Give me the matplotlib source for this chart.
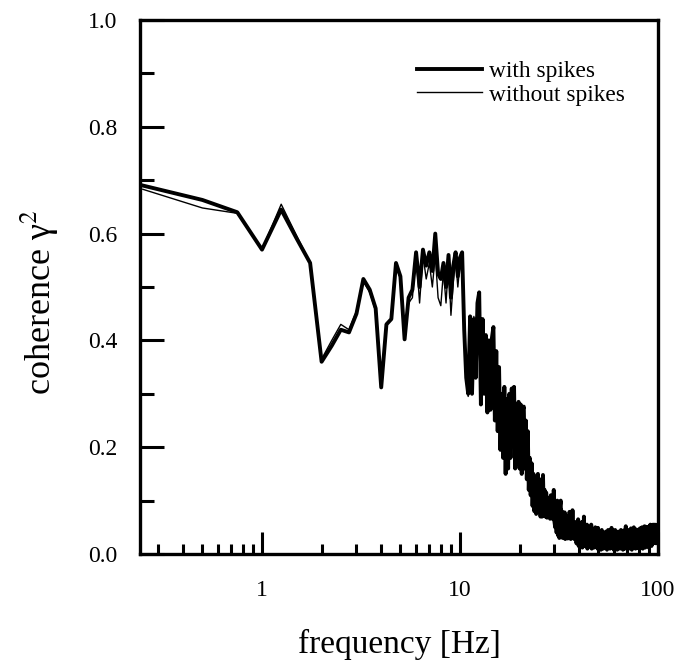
import numpy as np
import matplotlib
matplotlib.use("Agg")
import matplotlib.pyplot as plt
from matplotlib.ticker import FixedLocator, NullFormatter

plt.rcParams['font.family'] = ['Liberation Serif', 'DejaVu Serif']
plt.rcParams['mathtext.fontset'] = 'stix'

# frequency grid: 0.25 Hz resolution, 0.25 .. 100 Hz
df = 0.25
n_points = 400
freq = np.arange(1, n_points + 1) * df

with_spikes = [
    0.690, 0.663, 0.640, 0.570, 0.645, 0.590, 0.545, 0.360,
    0.390, 0.420, 0.415, 0.450, 0.515, 0.495, 0.460, 0.312,
    0.430, 0.440, 0.545, 0.520, 0.402, 0.480, 0.495, 0.565,
    0.500, 0.570, 0.540, 0.565, 0.530, 0.600, 0.525, 0.515,
    0.545, 0.500, 0.560, 0.480, 0.540, 0.565, 0.520, 0.555,
    0.565, 0.420, 0.330, 0.300, 0.445, 0.300, 0.440, 0.330,
    0.470, 0.490, 0.280, 0.440, 0.300, 0.410, 0.265, 0.400,
    0.270, 0.405, 0.425, 0.250, 0.380, 0.230, 0.350, 0.195,
    0.300, 0.180, 0.313, 0.150, 0.290, 0.160, 0.300, 0.180,
    0.310, 0.230, 0.313, 0.160, 0.280, 0.170, 0.285, 0.160,
    0.280, 0.150, 0.270, 0.276, 0.160, 0.250, 0.140, 0.230,
    0.120, 0.180, 0.110, 0.170, 0.090, 0.150, 0.080, 0.140,
    0.075, 0.130, 0.150, 0.080, 0.140, 0.070, 0.130, 0.070,
    0.148, 0.075, 0.120, 0.070, 0.115, 0.068, 0.105, 0.070,
    0.095, 0.066, 0.110, 0.068, 0.100, 0.065, 0.120, 0.060,
    0.050, 0.095, 0.040, 0.100, 0.035, 0.085, 0.030, 0.090,
    0.100, 0.035, 0.080, 0.030, 0.075, 0.032, 0.078, 0.028,
    0.065, 0.030, 0.070, 0.029, 0.060, 0.030, 0.079, 0.030,
    0.028, 0.060, 0.030, 0.082, 0.030, 0.055, 0.028, 0.050,
    0.030, 0.060, 0.020, 0.050, 0.035, 0.065, 0.015, 0.040,
    0.055, 0.020, 0.045, 0.030, 0.060, 0.012, 0.040, 0.025,
    0.070, 0.030, 0.050, 0.015, 0.045, 0.025, 0.055, 0.010,
    0.040, 0.020, 0.050, 0.030, 0.015, 0.045, 0.025, 0.055,
    0.010, 0.035, 0.020, 0.045, 0.030, 0.012, 0.040, 0.025,
    0.050, 0.015, 0.035, 0.020, 0.045, 0.010, 0.049, 0.025,
    0.030, 0.012, 0.040, 0.020, 0.035, 0.008, 0.030, 0.045,
    0.015, 0.025, 0.040, 0.010, 0.030, 0.020, 0.038, 0.012,
    0.028, 0.042, 0.015, 0.030, 0.008, 0.035, 0.020, 0.045,
    0.012, 0.030, 0.020, 0.040, 0.010, 0.025, 0.035, 0.015,
    0.049, 0.020, 0.030, 0.012, 0.040, 0.022, 0.008, 0.035,
    0.018, 0.030, 0.045, 0.010, 0.025, 0.035, 0.015, 0.040,
    0.008, 0.028, 0.020, 0.042, 0.012, 0.030, 0.022, 0.038,
    0.010, 0.035, 0.018, 0.045, 0.025, 0.012, 0.040, 0.020,
    0.030, 0.008, 0.036, 0.022, 0.044, 0.015, 0.030, 0.010,
    0.040, 0.025, 0.052, 0.018, 0.035, 0.012, 0.042, 0.028,
    0.015, 0.038, 0.022, 0.045, 0.010, 0.030, 0.020, 0.040,
    0.012, 0.034, 0.025, 0.048, 0.018, 0.030, 0.008, 0.038,
    0.022, 0.044, 0.015, 0.032, 0.025, 0.050, 0.012, 0.036,
    0.028, 0.018, 0.042, 0.010, 0.035, 0.024, 0.046, 0.015,
    0.032, 0.020, 0.040, 0.012, 0.030, 0.045, 0.018, 0.035,
    0.010, 0.038, 0.025, 0.048, 0.015, 0.030, 0.022, 0.042,
    0.012, 0.035, 0.028, 0.050, 0.018, 0.032, 0.010, 0.040,
    0.025, 0.045, 0.015, 0.036, 0.028, 0.052, 0.020, 0.038,
    0.012, 0.042, 0.030, 0.051, 0.018, 0.035, 0.025, 0.046,
    0.015, 0.040, 0.030, 0.050, 0.022, 0.038, 0.012, 0.044,
    0.028, 0.052, 0.020, 0.040, 0.032, 0.055, 0.018, 0.042,
    0.030, 0.048, 0.015, 0.038, 0.025, 0.050, 0.022, 0.045,
    0.035, 0.055, 0.020, 0.042, 0.030, 0.052, 0.025, 0.048,
    0.038, 0.055, 0.028, 0.046, 0.032, 0.050, 0.020, 0.045,
    0.035, 0.052, 0.030, 0.048, 0.040, 0.055, 0.028, 0.045,
]

without_spikes = [
    0.683, 0.648, 0.638, 0.570, 0.655, 0.595, 0.545, 0.365,
    0.400, 0.430, 0.420, 0.455, 0.510, 0.490, 0.455, 0.318,
    0.428, 0.440, 0.540, 0.515, 0.405, 0.470, 0.480, 0.560,
    0.470, 0.560, 0.515, 0.545, 0.500, 0.560, 0.480, 0.465,
    0.530, 0.470, 0.545, 0.447, 0.510, 0.550, 0.500, 0.545,
    0.560, 0.410, 0.325, 0.295, 0.440, 0.310, 0.445, 0.335,
    0.460, 0.485, 0.290, 0.430, 0.310, 0.405, 0.270, 0.395,
    0.280, 0.400, 0.420, 0.260, 0.370, 0.240, 0.345, 0.200,
    0.290, 0.190, 0.305, 0.160, 0.285, 0.170, 0.290, 0.185,
    0.300, 0.235, 0.305, 0.170, 0.270, 0.175, 0.275, 0.165,
    0.270, 0.160, 0.265, 0.265, 0.165, 0.245, 0.145, 0.225,
    0.125, 0.175, 0.115, 0.165, 0.095, 0.145, 0.085, 0.135,
    0.080, 0.125, 0.145, 0.085, 0.135, 0.075, 0.125, 0.075,
    0.140, 0.080, 0.115, 0.075, 0.110, 0.070, 0.100, 0.072,
    0.090, 0.068, 0.105, 0.070, 0.095, 0.066, 0.115, 0.062,
    0.055, 0.090, 0.045, 0.095, 0.038, 0.080, 0.033, 0.085,
    0.095, 0.038, 0.085, 0.032, 0.070, 0.035, 0.072, 0.030,
    0.060, 0.032, 0.065, 0.031, 0.058, 0.032, 0.075, 0.032,
    0.030, 0.055, 0.033, 0.078, 0.030, 0.052, 0.030, 0.046,
    0.035, 0.055, 0.025, 0.045, 0.040, 0.060, 0.020, 0.035,
    0.050, 0.025, 0.040, 0.035, 0.055, 0.015, 0.045, 0.020,
    0.065, 0.035, 0.045, 0.020, 0.040, 0.030, 0.050, 0.015,
    0.035, 0.025, 0.045, 0.035, 0.020, 0.040, 0.030, 0.050,
    0.015, 0.030, 0.025, 0.040, 0.035, 0.015, 0.035, 0.030,
    0.045, 0.020, 0.030, 0.025, 0.040, 0.015, 0.045, 0.020,
    0.035, 0.015, 0.035, 0.025, 0.030, 0.012, 0.035, 0.040,
    0.020, 0.030, 0.035, 0.015, 0.025, 0.025, 0.032, 0.018,
    0.032, 0.038, 0.020, 0.025, 0.012, 0.030, 0.025, 0.040,
    0.018, 0.025, 0.025, 0.035, 0.015, 0.030, 0.030, 0.020,
    0.044, 0.025, 0.025, 0.018, 0.035, 0.028, 0.012, 0.030,
    0.022, 0.025, 0.040, 0.015, 0.030, 0.030, 0.020, 0.035,
    0.012, 0.032, 0.018, 0.038, 0.016, 0.026, 0.026, 0.034,
    0.014, 0.030, 0.022, 0.040, 0.020, 0.016, 0.036, 0.024,
    0.026, 0.012, 0.032, 0.026, 0.040, 0.020, 0.026, 0.014,
    0.036, 0.030, 0.048, 0.022, 0.030, 0.016, 0.038, 0.032,
    0.020, 0.034, 0.026, 0.040, 0.014, 0.026, 0.024, 0.036,
    0.016, 0.030, 0.028, 0.044, 0.022, 0.026, 0.012, 0.034,
    0.026, 0.040, 0.018, 0.028, 0.030, 0.046, 0.016, 0.032,
    0.024, 0.022, 0.038, 0.014, 0.030, 0.028, 0.042, 0.018,
    0.028, 0.024, 0.036, 0.016, 0.026, 0.040, 0.022, 0.030,
    0.014, 0.034, 0.028, 0.044, 0.018, 0.026, 0.026, 0.038,
    0.016, 0.030, 0.032, 0.046, 0.022, 0.028, 0.014, 0.036,
    0.028, 0.040, 0.018, 0.032, 0.030, 0.048, 0.024, 0.034,
    0.016, 0.038, 0.034, 0.046, 0.022, 0.030, 0.028, 0.042,
    0.018, 0.036, 0.034, 0.046, 0.026, 0.034, 0.016, 0.040,
    0.030, 0.048, 0.024, 0.036, 0.034, 0.050, 0.022, 0.038,
    0.032, 0.044, 0.020, 0.034, 0.028, 0.046, 0.026, 0.040,
    0.036, 0.050, 0.024, 0.038, 0.032, 0.048, 0.028, 0.044,
    0.040, 0.050, 0.030, 0.042, 0.035, 0.046, 0.024, 0.042,
    0.038, 0.048, 0.032, 0.044, 0.042, 0.050, 0.030, 0.042,
]

x_major = [1, 10, 100]
x_major_labels = ["1", "10", "100"]
x_minor = [0.3, 0.4, 0.5, 0.6, 0.7, 0.8, 0.9,
           2, 3, 4, 5, 6, 7, 8, 9,
           20, 30, 40, 50, 60, 70, 80, 90]
y_major = [0.0, 0.2, 0.4, 0.6, 0.8, 1.0]
y_minor = [0.1, 0.3, 0.5, 0.7, 0.9]

fig = plt.figure(figsize=(6.8, 6.6), dpi=100)
ax = fig.add_axes([140/680, 1 - 554/660, 518/680, 534/660])

ax.plot(freq, with_spikes, color='black', lw=2.8, label='with spikes')
ax.plot(freq, without_spikes, color='black', lw=1.0, label='without spikes')

ax.set_xscale('log')
ax.set_xlim(0.242, 100)
ax.set_ylim(0, 1.0)

ax.set_xticks(x_major)
ax.set_xticklabels(x_major_labels)
ax.xaxis.set_minor_locator(FixedLocator(x_minor))
ax.xaxis.set_minor_formatter(NullFormatter())
ax.set_yticks(y_major)
ax.set_yticklabels([f"{v:.1f}" for v in y_major])
ax.yaxis.set_minor_locator(FixedLocator(y_minor))

ax.tick_params(axis='x', which='major', direction='in', length=15.5, width=2.2,
               labelsize=17, pad=19, top=False)
ax.tick_params(axis='x', which='minor', direction='in', length=7.5, width=2.2,
               top=False)
ax.tick_params(axis='y', which='major', direction='in', length=17, width=2.2,
               labelsize=17, pad=16, right=False)
ax.tick_params(axis='y', which='minor', direction='in', length=10, width=2.2,
               right=False)

for s in ax.spines.values():
    s.set_linewidth(2.4)

ax.set_xlabel('frequency [Hz]', fontsize=24, labelpad=20)
fig.text(40/680, 1 - 302/660, 'coherence γ$^{2}$', fontsize=26,
         rotation=90, ha='center', va='center')

leg = ax.legend(loc='upper left', bbox_to_anchor=(0.535, 0.924), frameon=False,
                fontsize=16.8, handlelength=2.8, handletextpad=0.3,
                labelspacing=0.1, borderpad=0, borderaxespad=0)

fig.savefig('out.png', dpi=100, facecolor='white')
